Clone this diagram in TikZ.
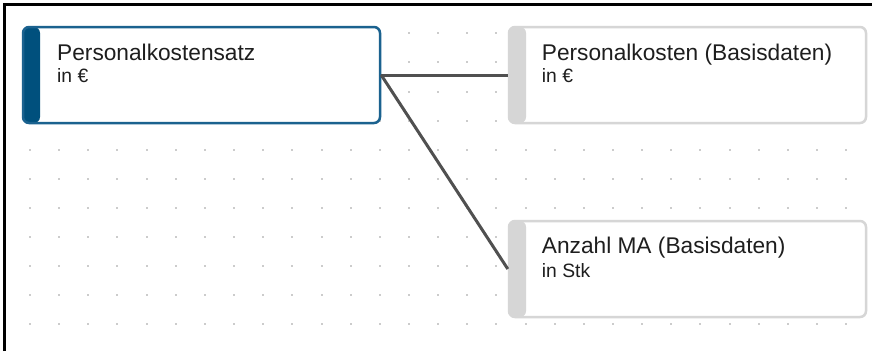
\documentclass[tikz,border=0pt]{standalone}
\usepackage{fontspec}
\setmainfont{Liberation Sans}
\definecolor{barblue}{HTML}{00507D}
\definecolor{edgeblue}{HTML}{1B628F}
\definecolor{greyedge}{HTML}{D6D6D6}
\definecolor{txt}{HTML}{1E1E1E}
\definecolor{linkcol}{HTML}{505050}
\definecolor{dotcol}{HTML}{CCCCCC}
\tikzset{
  card/.style={rectangle, rounded corners=6pt, minimum width=357pt, minimum height=96pt,
    fill=white, line width=2.5pt, inner sep=0pt, outer sep=1.2pt,
    path picture={\fill[#1] (path picture bounding box.north west) rectangle ([xshift=17pt]path picture bounding box.south west);}},
  activecard/.style={card=barblue, draw=edgeblue},
  plaincard/.style={card=greyedge, draw=greyedge},
  title/.style={anchor=base west, inner sep=0pt, text=txt, font=\fontsize{22.7}{26}\selectfont},
  unit/.style={anchor=base west, inner sep=0pt, text=txt, font=\fontsize{19.3}{22}\selectfont},
  link/.style={draw=linkcol, line width=3pt},
}
\begin{document}
\begin{tikzpicture}[x=1pt,y=-1pt]
\useasboundingbox (0,0) rectangle (872,351);
\fill[white] (0,0) rectangle (872,351);
% dotted grid
\foreach \i in {0,...,28} {
  \foreach \j in {0,...,11} {
    \fill[dotcol] ({30+\i*29.15-1},{4.3+\j*29.07-1}) rectangle ++(2,2);
  }
}
% frame (left and top)
\draw[black, line width=2.8pt] (4.7,351) -- (4.7,4.7) -- (872,4.7);
% cards
\node[activecard] (box1) at (201.5,75) {};
\node[plaincard] (box2) at (687.5,75) {};
\node[plaincard] (box3) at (687.5,269) {};
% connectors
\draw[link] (box1.east) -- (box2.west);
\draw[link] (box1.east) -- (box3.west);
% texts
\node[title] (t1) at (57,60) {Personalkostensatz};
\node[unit] (u1) at (57,82.7) {in €};
\node[title] (t2) at (541.7,60) {Personalkosten (Basisdaten)};
\node[unit] (u2) at (541.7,82.7) {in €};
\node[title] (t3) at (541.7,253.3) {Anzahl MA (Basisdaten)};
\node[unit] (u3) at (541.7,277.3) {in Stk};
\end{tikzpicture}
\end{document}
